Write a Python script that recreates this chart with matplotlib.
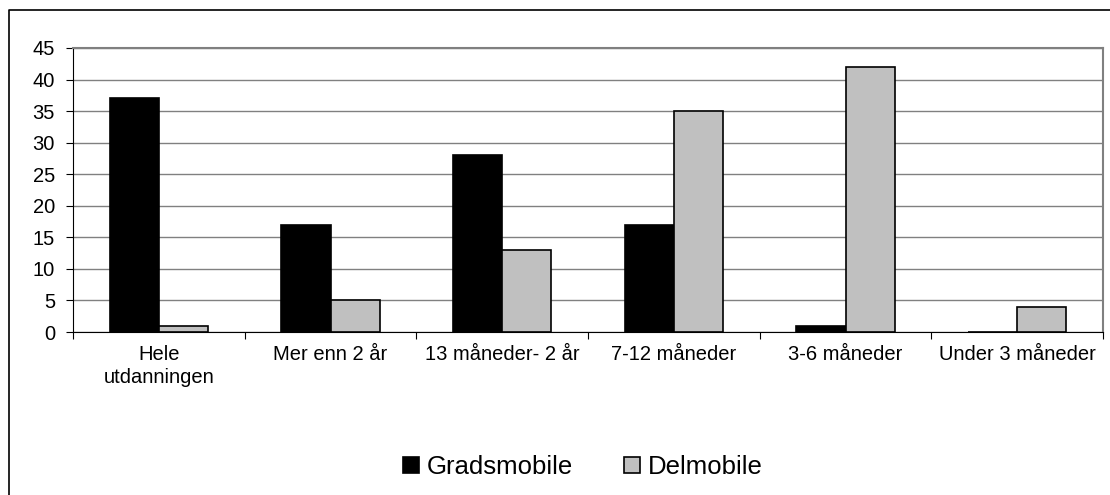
import numpy as np
import matplotlib.pyplot as plt
from matplotlib.lines import Line2D

categories = ['Hele\nutdanningen', 'Mer enn 2 år', '13 måneder- 2 år',
              '7-12 måneder', '3-6 måneder', 'Under 3 måneder']
gradsmobile = [37, 17, 28, 17, 1, 0]
delmobile = [1, 5, 13, 35, 42, 4]
series_names = ['Gradsmobile', 'Delmobile']

plt.rcParams['font.family'] = ['Liberation Sans', 'DejaVu Sans']

fig = plt.figure(figsize=(11.1, 4.95), dpi=100)
ax = fig.add_axes([73 / 1110, 1 - 332 / 495, 1030 / 1110, 284 / 495])

# chart frame: only left and top edges are inside the picture
fig.lines.append(Line2D([8.5 / 1110, 8.5 / 1110, 1], [0, 1 - 9.5 / 495, 1 - 9.5 / 495],
                        transform=fig.transFigure, color='black', linewidth=1.2))

x = np.arange(len(categories))
width = 1 / 3.5
ax.bar(x - width / 2, gradsmobile, width, color='black', edgecolor='black',
       linewidth=1.2, label=series_names[0], zorder=3)
ax.bar(x + width / 2, delmobile, width, color='#c0c0c0', edgecolor='black',
       linewidth=1.2, label=series_names[1], zorder=3)

ax.set_xlim(-0.5, len(categories) - 0.5)
ax.set_ylim(0, 45)
ax.set_yticks(np.arange(0, 46, 5))
ax.yaxis.grid(True, color='#808080', linewidth=1, zorder=0)

ax.set_xticks(np.arange(-0.5, len(categories), 1))
ax.set_xticklabels([])
ax.set_xticks(x, minor=True)
ax.set_xticklabels(categories, minor=True, fontsize=14.5, linespacing=1.3)
ax.tick_params(axis='x', which='minor', length=0, pad=9)
ax.tick_params(axis='x', which='major', length=5, direction='out', color='black')
ax.tick_params(axis='y', length=5, direction='out', labelsize=14.5, pad=8)

for side in ['top', 'right']:
    ax.spines[side].set_color('#808080')
    ax.spines[side].set_linewidth(1.5)
for side in ['left', 'bottom']:
    ax.spines[side].set_color('black')

ax.legend(loc='center', bbox_to_anchor=(583 / 1110, 1 - 467 / 495),
          bbox_transform=fig.transFigure, ncol=2, frameon=False, fontsize=18.5,
          handlelength=0.62, handleheight=0.62, handletextpad=0.3,
          columnspacing=2.0)

fig.savefig('out.png', dpi=100)
